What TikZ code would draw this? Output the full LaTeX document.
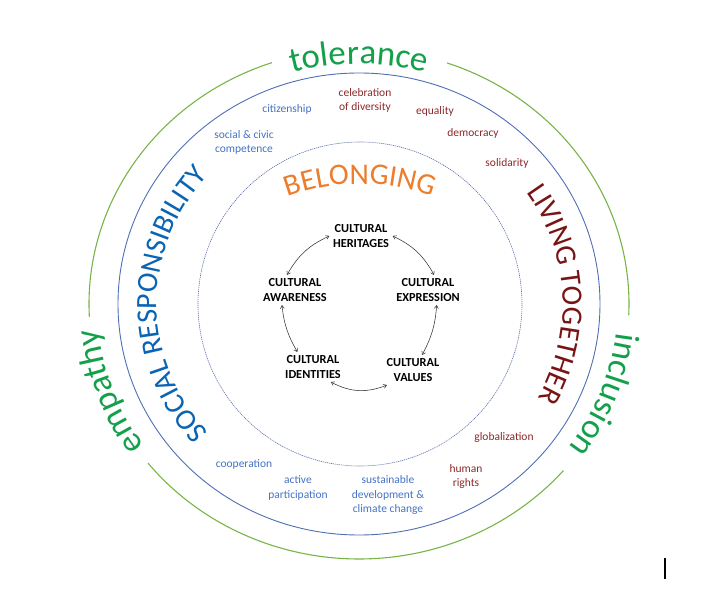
\documentclass[tikz,border=0pt]{standalone}
\usepackage{fontspec}
\setmainfont{Carlito}
\usetikzlibrary{decorations.text,arrows.meta}
\definecolor{txgreen}{RGB}{20,160,75}
\definecolor{lngreen}{RGB}{120,180,70}
\definecolor{lnblue}{RGB}{80,110,180}
\definecolor{dsblue}{RGB}{90,110,170}
\definecolor{srblue}{RGB}{10,100,180}
\definecolor{labblue}{RGB}{68,114,196}
\definecolor{labred}{RGB}{140,40,40}
\definecolor{ltred}{RGB}{120,20,20}
\definecolor{belor}{RGB}{235,125,45}
\newcommand\bigGreenFont{\fontsize{35}{35}\selectfont\color{txgreen}}
\newcommand\srFont{\fontsize{29.5}{29.5}\selectfont\color{srblue}}
\newcommand\ltFont{\fontsize{29.5}{29.5}\selectfont\color{ltred}}
\newcommand\belFont{\fontsize{30}{30}\selectfont\color{belor}}
\begin{document}
\begin{tikzpicture}[x=1pt,y=1pt,
  greenarc/.style={draw=lngreen,line width=1.1pt},
  bluering/.style={draw=lnblue,line width=0.9pt},
  dashring/.style={draw=dsblue,line width=0.6pt,dash pattern=on 1.2pt off 0.8pt},
  bluelab/.style={text=labblue,font=\fontsize{11.5}{14.2}\selectfont,align=center,inner sep=0pt},
  redlab/.style={text=labred,font=\fontsize{11.5}{14.2}\selectfont,align=center,inner sep=0pt},
  cult/.style={font=\bfseries\fontsize{12.3}{14.5}\selectfont,align=center,inner sep=3.5pt},
  dbl/.style={{Straight Barb[length=3pt,width=4pt]}-{Straight Barb[length=3pt,width=4pt]},line width=0.55pt,draw=black!80}
]
\useasboundingbox (-359,-298) rectangle (361,304);
% outer green circle (three arcs)
\draw[greenarc] ({270*cos(71)},{255*sin(71)}) arc[start angle=71,end angle=-2.5,x radius=270,y radius=255];
\draw[greenarc] ({270*cos(108.8)},{255*sin(108.8)}) arc[start angle=108.8,end angle=182.9,x radius=270,y radius=255];
\draw[greenarc] ({270*cos(218.6)},{255*sin(218.6)}) arc[start angle=218.6,end angle=319.2,x radius=270,y radius=255];
% blue ring and dashed ring
\draw[bluering] (0,0) ellipse[x radius=241,y radius=231];
\draw[dashring] (1,0) circle[radius=162];
% curved outer words
\path[decorate,decoration={text along path,text align=center,text={|\bigGreenFont|tolerance}}]
  ({254*cos(130)},{240*sin(130)}) arc[start angle=130,end angle=50,x radius=254,y radius=240];
\path[decorate,decoration={text along path,text align=center,text={|\bigGreenFont|empathy}}]
  ({262*cos(240)},{247*sin(240)}) arc[start angle=240,end angle=160,x radius=262,y radius=247];
\path[decorate,decoration={text along path,text align=center,text={|\bigGreenFont|inclusion}}]
  ({259*cos(19)},{244*sin(19)}) arc[start angle=19,end angle=-61,x radius=259,y radius=244];
\path[decorate,decoration={text along path,text align=center,text={|\srFont|SOCIAL RESPONSIBILITY}}]
  ({202*cos(240)},{193*sin(240)}) arc[start angle=240,end angle=120,x radius=202,y radius=193];
\path[decorate,decoration={text along path,text align=center,text={|\ltFont|LIVING TOGETHER}}]
  ({204*cos(60)},{195*sin(60)}) arc[start angle=60,end angle=-54,x radius=204,y radius=195];
\path[decorate,decoration={text along path,text align=center,text={|\belFont|BELONGING}}]
  ([shift={(1,-88)}]125:208) arc[start angle=125,end angle=55,radius=208];
% small labels
\node[bluelab] (citz) at (-72,195) {citizenship};
\node[redlab] (celeb) at (6,203.5) {celebration\\of diversity};
\node[redlab] (equal) at (76,193) {equality};
\node[bluelab] (civic) at (-115,161.5) {social \& civic\\competence};
\node[redlab] (democ) at (114,171) {democracy};
\node[redlab] (solid) at (148,141) {solidarity};
\node[redlab] (glob) at (145,-133) {globalization};
\node[bluelab] (coop) at (-115,-160) {cooperation};
\node[bluelab] (activ) at (-61,-184) {active\\participation};
\node[bluelab] (sust) at (29,-191) {sustainable\\development \&\\climate change};
\node[redlab] (human) at (107,-172.5) {human\\rights};
% cultural cycle
\node[cult] (her) at (2,68) {CULTURAL\\HERITAGES};
\node[cult] (awa) at (-64,14) {CULTURAL\\AWARENESS};
\node[cult] (exp) at (69,14) {CULTURAL\\EXPRESSION};
\node[cult] (ide) at (-46,-63) {CULTURAL\\IDENTITIES};
\node[cult] (val) at (54,-66) {CULTURAL\\VALUES};
\draw[dbl] (her.west) to[bend right=18] (awa.118);
\draw[dbl] (her.east) to[bend left=18] (exp.68);
\draw[dbl] (awa.229) to[bend right=12] (ide.136);
\draw[dbl] (exp.-60) to[bend left=12] (val.59);
\draw[dbl] (ide.-40) to[bend right=25] (val.210);
% cursor mark
\coordinate (cur1) at (306,-254);
\coordinate (cur2) at (306,-275);
\draw[line width=1.2pt] (cur1) -- (cur2);
\end{tikzpicture}
\end{document}
